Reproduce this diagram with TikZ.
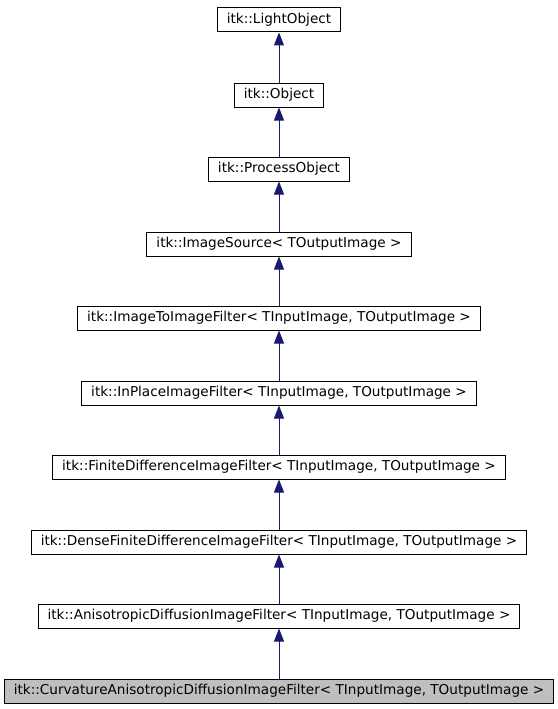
\documentclass[tikz,border=0pt]{standalone}
\usepackage{fontspec}
\newfontfamily\dejavu{DejaVu Sans}
\usetikzlibrary{arrows.meta}
\definecolor{itkblue}{HTML}{191970}
\definecolor{itkgray}{HTML}{BFBFBF}
\begin{document}
\begin{tikzpicture}[x=1pt,y=-1pt,
    cls/.style={draw=black,line width=1pt,fill=white,minimum height=24pt,
      inner xsep=9.5pt,inner ysep=0pt,font=\dejavu\fontsize{13.6}{16}\selectfont},
    inh/.style={draw=itkblue,line width=1pt,-{Triangle[length=13pt,width=10pt,fill=itkblue]}}]
  \useasboundingbox (0,0) rectangle (557,709);
  % class boxes, top down
  \node[cls] (light) at (279,20) {itk::LightObject};
  \node[cls] (object) at (279,95) {itk::Object};
  \node[cls] (process) at (279,169) {itk::ProcessObject};
  \node[cls] (source) at (279,244) {itk::ImageSource< TOutputImage >};
  \node[cls] (imgtoimg) at (279,318) {itk::ImageToImageFilter< TInputImage, TOutputImage >};
  \node[cls] (inplace) at (279,393) {itk::InPlaceImageFilter< TInputImage, TOutputImage >};
  \node[cls] (finite) at (279,467) {itk::FiniteDifferenceImageFilter< TInputImage, TOutputImage >};
  \node[cls] (dense) at (279,542) {itk::DenseFiniteDifferenceImageFilter< TInputImage, TOutputImage >};
  \node[cls] (aniso) at (279,616) {itk::AnisotropicDiffusionImageFilter< TInputImage, TOutputImage >};
  \node[cls,fill=itkgray] (curv) at (279,691) {itk::CurvatureAnisotropicDiffusionImageFilter< TInputImage, TOutputImage >};
  % inheritance arrows
  \draw[inh] (object) -- (light);
  \draw[inh] (process) -- (object);
  \draw[inh] (source) -- (process);
  \draw[inh] (imgtoimg) -- (source);
  \draw[inh] (inplace) -- (imgtoimg);
  \draw[inh] (finite) -- (inplace);
  \draw[inh] (dense) -- (finite);
  \draw[inh] (aniso) -- (dense);
  \draw[inh] (curv) -- (aniso);
\end{tikzpicture}
\end{document}
